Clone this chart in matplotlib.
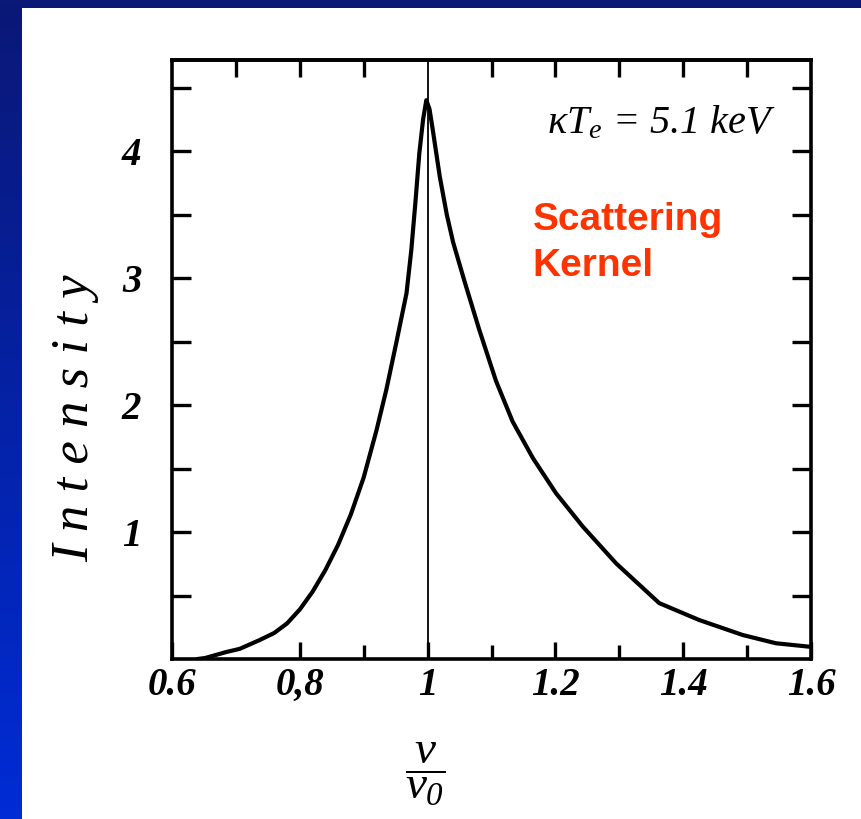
import numpy as np
import matplotlib
matplotlib.use("Agg")
import matplotlib.pyplot as plt
from matplotlib.patches import Rectangle

# Curve (nu/nu0, intensity)
ratio = [0.640, 0.652, 0.685, 0.706, 0.7375, 0.760, 0.780, 0.800, 0.820, 0.840,
         0.860, 0.880, 0.900, 0.920, 0.9354, 0.951, 0.967, 0.9745, 0.981, 0.987,
         0.993, 0.998, 1.003, 1.008, 1.019, 1.030, 1.040, 1.058, 1.081, 1.107,
         1.133, 1.165, 1.201, 1.243, 1.295, 1.3625, 1.425, 1.493, 1.545, 1.597]
intensity = [0.0, 0.008, 0.055, 0.08, 0.15, 0.205, 0.28, 0.39, 0.53, 0.70,
             0.90, 1.14, 1.43, 1.80, 2.12, 2.49, 2.88, 3.22, 3.60, 3.98,
             4.25, 4.40, 4.33, 4.17, 3.80, 3.50, 3.28, 2.97, 2.59, 2.19,
             1.87, 1.58, 1.305, 1.042, 0.753, 0.44, 0.307, 0.189, 0.124, 0.097]

x_major = [0.6, 0.8, 1.0, 1.2, 1.4, 1.6]
x_major_labels = ["0.6", "0,8", "1", "1.2", "1.4", "1.6"]
x_minor = [0.9, 1.1, 1.3, 1.5]
x_top = [0.7, 0.8, 0.9, 1.1, 1.2, 1.3, 1.4, 1.5]
y_ticks = [0.5, 1, 1.5, 2, 2.5, 3, 3.5, 4, 4.5]
y_labels = ["", "1", "", "2", "", "3", "", "4", ""]

plt.rcParams['mathtext.fontset'] = 'custom'
plt.rcParams['mathtext.it'] = 'Liberation Serif:italic'
plt.rcParams['mathtext.rm'] = 'Liberation Serif:italic'

W, H = 862, 819
fig = plt.figure(figsize=(W / 100, H / 100), dpi=100)

# slide background: blue gradient strips, white panel
bg = fig.add_axes([0, 0, 1, 1], zorder=-10)
grad = np.linspace(0, 1, 256).reshape(-1, 1)
top_c = np.array([10, 24, 118]) / 255
bot_c = np.array([0, 44, 214]) / 255
img = top_c + grad[..., None] * (bot_c - top_c)
bg.imshow(img.reshape(256, 1, 3), aspect='auto', extent=[0, W, H, 0])
bg.add_patch(Rectangle((22, 8), W - 22, H - 8, facecolor='white', edgecolor='none'))
bg.set_xlim(0, W)
bg.set_ylim(H, 0)
bg.axis('off')

ax = fig.add_axes([172 / W, 1 - 659 / H, 639 / W, 599 / H])
ax.plot(ratio, intensity, color='black', lw=3.0, solid_capstyle='round',
        solid_joinstyle='round')
ax.axvline(1.0, color='black', lw=1.3)
ax.set_xlim(0.6, 1.6)
ax.set_ylim(0, 599 / 127)

for s in ax.spines.values():
    s.set_linewidth(2.6)

tick_font = dict(family='Liberation Serif', style='italic', weight='bold', size=28)
ax.set_xticks(x_major)
ax.set_xticklabels(x_major_labels, fontdict=tick_font)
ax.set_xticks(x_minor, minor=True)
ax.set_yticks(y_ticks)
ax.set_yticklabels(y_labels, fontdict=tick_font)
ax.tick_params(axis='x', which='major', direction='in', length=12, width=2.4, pad=6)
ax.tick_params(axis='x', which='minor', direction='in', length=10, width=2.4)
ax.tick_params(axis='y', which='major', direction='in', length=14, width=2.4, pad=22,
               right=True)

top = ax.secondary_xaxis('top')
top.set_xticks(x_top)
top.set_xticklabels([])
top.tick_params(direction='in', length=12, width=2.4)
top.spines['top'].set_linewidth(2.6)

ax.text(1.187, 4.14, r"$\kappa T_e$ = 5.1 keV", fontsize=29,
        family='Liberation Serif', style='italic', ha='left', va='baseline')
ax.text(1.164, 3.60, "Scattering\nKernel", fontsize=28, fontweight='bold',
        family='Liberation Sans', color='#ff3300', ha='left', va='top',
        linespacing=1.35)

fig.text(75 / W, 1 - 418 / H, "I n t e n s i t y", rotation=90, fontsize=38,
         family='Liberation Serif', style='italic', ha='center', va='center')
fig.text(425 / W, 1 - 774 / H, r"$\dfrac{\nu}{\nu_0}$", fontsize=34,
         ha='center', va='center')

fig.savefig("out.png", dpi=100)
